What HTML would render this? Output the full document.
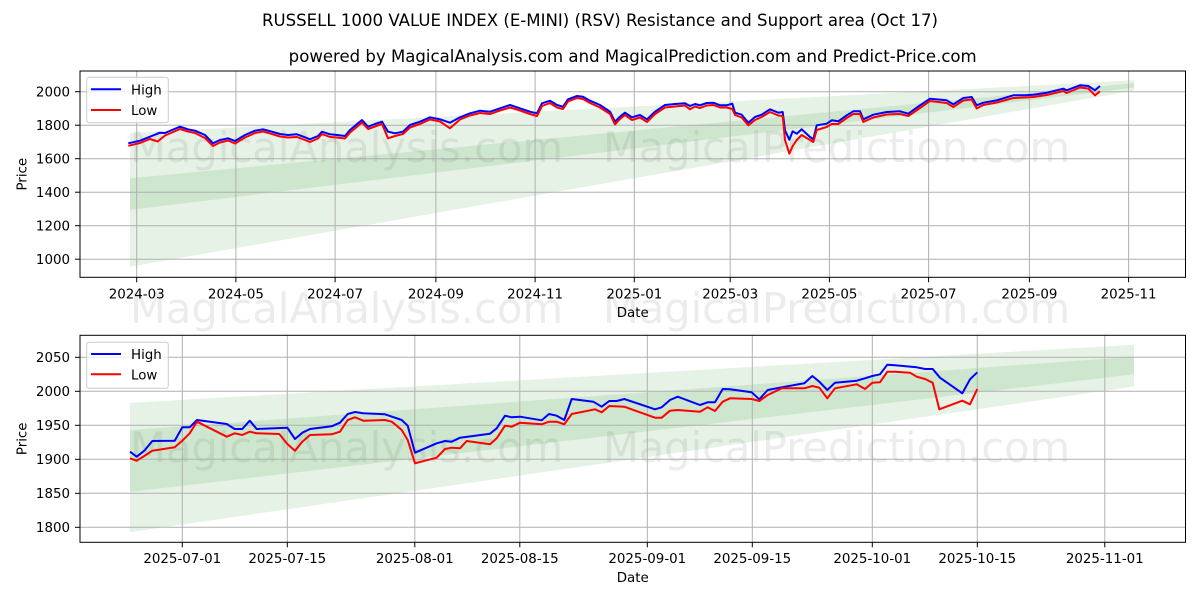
<!DOCTYPE html>
<html>
<head>
<meta charset="utf-8">
<style>
  html, body { margin:0; padding:0; background:#ffffff; }
  svg { display:block; }
  text { font-family: "DejaVu Sans", "Liberation Sans", sans-serif; }
  .t { fill:#000; }
  .wm { fill:#808080; fill-opacity:0.15; }
</style>
</head>
<body>
<svg width="1200" height="600" viewBox="0 0 1200 600" xmlns="http://www.w3.org/2000/svg">
  <rect x="0" y="0" width="1200" height="600" fill="#ffffff"/>

  <!-- Titles -->
  <text class="t" x="600" y="26" font-size="16.5" text-anchor="middle" textLength="676" lengthAdjust="spacingAndGlyphs">RUSSELL 1000 VALUE INDEX (E-MINI) (RSV) Resistance and Support area (Oct 17)</text>
  <text class="t" x="632.7" y="62" font-size="16.5" text-anchor="middle" textLength="688" lengthAdjust="spacingAndGlyphs">powered by MagicalAnalysis.com and MagicalPrediction.com and Predict-Price.com</text>

  <!-- ================= TOP CHART ================= -->
  <polygon points="130,133 1134,80.3 1134,90.5 130,266.7" fill="#008000" fill-opacity="0.1"/>
  <polygon points="130,178.3 1134,83.2 1134,87.5 130,209.9" fill="#008000" fill-opacity="0.1"/>

  <g stroke="#b0b0b0" stroke-width="1">
    <line x1="80" y1="91.7" x2="1185.5" y2="91.7"/>
    <line x1="80" y1="125.2" x2="1185.5" y2="125.2"/>
    <line x1="80" y1="158.7" x2="1185.5" y2="158.7"/>
    <line x1="80" y1="192.2" x2="1185.5" y2="192.2"/>
    <line x1="80" y1="225.7" x2="1185.5" y2="225.7"/>
    <line x1="80" y1="259.2" x2="1185.5" y2="259.2"/>
    <line x1="136.7" y1="71" x2="136.7" y2="277.3"/>
    <line x1="235.9" y1="71" x2="235.9" y2="277.3"/>
    <line x1="335.1" y1="71" x2="335.1" y2="277.3"/>
    <line x1="435.9" y1="71" x2="435.9" y2="277.3"/>
    <line x1="535.1" y1="71" x2="535.1" y2="277.3"/>
    <line x1="634.3" y1="71" x2="634.3" y2="277.3"/>
    <line x1="730.2" y1="71" x2="730.2" y2="277.3"/>
    <line x1="829.4" y1="71" x2="829.4" y2="277.3"/>
    <line x1="928.6" y1="71" x2="928.6" y2="277.3"/>
    <line x1="1029.4" y1="71" x2="1029.4" y2="277.3"/>
    <line x1="1128.6" y1="71" x2="1128.6" y2="277.3"/>
  </g>

  <!-- Watermarks (drawn under series) -->
  <g font-size="41.5">
    <text class="wm" x="130" y="162" textLength="433" lengthAdjust="spacingAndGlyphs">MagicalAnalysis.com</text>
    <text class="wm" x="603" y="162" textLength="467" lengthAdjust="spacingAndGlyphs">MagicalPrediction.com</text>
    <text class="wm" x="130" y="323" textLength="433" lengthAdjust="spacingAndGlyphs">MagicalAnalysis.com</text>
    <text class="wm" x="603" y="323" textLength="467" lengthAdjust="spacingAndGlyphs">MagicalPrediction.com</text>
    <text class="wm" x="130" y="462" textLength="433" lengthAdjust="spacingAndGlyphs">MagicalAnalysis.com</text>
    <text class="wm" x="603" y="462" textLength="467" lengthAdjust="spacingAndGlyphs">MagicalPrediction.com</text>
  </g>

  <polyline fill="none" stroke="#0000ff" stroke-width="2" stroke-linejoin="round" points="128.3,143.3 140,140.7 150,136.7 160,132.7 165,133 172,130 180,126.7 188,129.3 195,130.7 205,135 213,143.3 220,140 228,138.3 235,141 245,135 255,130.7 263,129.3 272,131.7 280,134 288,135 297,134.3 305,137.3 310,139.3 318,136 322,131.7 330,134.3 337,135 345,136 350,130 358,123.3 362,120 368,126.7 375,124 382,121.7 388,131.7 395,133.3 403,131.7 410,125 420,121.7 430,117.3 440,119.3 450,122.7 460,117.3 470,113.3 480,110.7 490,111.7 500,108.3 510,105 520,108.3 530,111.7 537,113.3 542,103.3 550,100.7 557,105 563,106.7 568,99.3 577,96 583,96.7 590,100.7 600,105 610,111.7 615,121.7 620,116.7 625,112.7 632,117.3 640,115 647,119.3 655,111.7 665,105 675,104 685,103.3 690,106 695,104 700,105.3 706.7,103 713.3,102.7 720,105.3 726.7,105.3 732.3,103.7 735,112.7 741.7,114.7 748.3,122.7 755,117 761.7,114.7 770,109.3 778.3,112.7 782.7,112 785,130.3 789.3,139.7 792.7,131.3 796.7,133.7 801.7,129.3 810,137 813.3,139.3 816.7,125.3 826.7,123.7 831.7,120.3 838.3,121.3 846.7,115.3 853.3,111.3 860,111.3 863.3,119.3 873.3,114.7 886.7,112 900,111.3 908.3,113.7 920,105.3 930,98.7 946.7,100.3 953.3,104.3 963.3,98 971.7,97 976.7,105.3 983.3,102.7 996.7,100.3 1013.3,95.3 1025,95.3 1033.3,94.7 1046.7,92.7 1063.3,88.7 1066.7,90.3 1080,85.3 1088.3,86 1095,90.3 1100,86"/>
  <polyline fill="none" stroke="#ff0000" stroke-width="2" stroke-linejoin="round" points="128.3,145.8 140,143 150,139 157.7,141.5 165,135.5 172,132.5 180,129 188,131.5 195,133 205,138 213,146 220,142.5 228,140.5 235,143.5 245,137.5 255,133 263,131.5 272,134 280,136.5 288,137.5 297,137 305,140 310,142 318,138.5 322,134 330,137 337,137.5 345,138.5 350,132.5 358,126 362,122.5 368,129 375,126.5 382,124 388,138.3 395,136 403,134 410,127.5 420,124 430,119.5 440,121.5 450,128.3 460,119.5 470,115.5 480,113 490,114 500,110.5 510,107.5 520,110.5 530,114 537,116 542,106 550,103 557,107.5 563,109 568,101.5 577,98 583,99 590,103 600,107.5 610,114 615,124.5 620,119 625,115 632,120 640,117.5 647,122 655,114 665,107.5 675,106.5 685,105.5 690,109.3 695,106.5 700,108 706.7,105.5 713.3,105 720,107.5 726.7,107.5 732.3,109 735,115 741.7,117.5 748.3,125.3 755,120 761.7,117 770,112 778.3,115.5 782.7,116 785,140 789.3,153.7 792.7,146 796.7,140 801.7,135 810,140 813.3,142 816.7,130 826.7,127 831.7,124 838.3,124 846.7,118 853.3,114 860,114 863.3,122 873.3,117.5 886.7,114.5 900,114 908.3,116 920,108 930,101 946.7,103 953.3,107 963.3,100.5 971.7,99.5 976.7,108.5 983.3,105 996.7,102.5 1013.3,98 1025,97.5 1033.3,97 1046.7,95 1063.3,91 1066.7,93 1080,87.5 1088.3,88.5 1095,95.3 1100,91.3"/>

  <rect x="80" y="71" width="1105.5" height="206.3" fill="none" stroke="#000" stroke-width="1"/>

  <g stroke="#000" stroke-width="1">
    <line x1="75" y1="91.7" x2="80" y2="91.7"/>
    <line x1="75" y1="125.2" x2="80" y2="125.2"/>
    <line x1="75" y1="158.7" x2="80" y2="158.7"/>
    <line x1="75" y1="192.2" x2="80" y2="192.2"/>
    <line x1="75" y1="225.7" x2="80" y2="225.7"/>
    <line x1="75" y1="259.2" x2="80" y2="259.2"/>
    <line x1="136.7" y1="277.3" x2="136.7" y2="282.3"/>
    <line x1="235.9" y1="277.3" x2="235.9" y2="282.3"/>
    <line x1="335.1" y1="277.3" x2="335.1" y2="282.3"/>
    <line x1="435.9" y1="277.3" x2="435.9" y2="282.3"/>
    <line x1="535.1" y1="277.3" x2="535.1" y2="282.3"/>
    <line x1="634.3" y1="277.3" x2="634.3" y2="282.3"/>
    <line x1="730.2" y1="277.3" x2="730.2" y2="282.3"/>
    <line x1="829.4" y1="277.3" x2="829.4" y2="282.3"/>
    <line x1="928.6" y1="277.3" x2="928.6" y2="282.3"/>
    <line x1="1029.4" y1="277.3" x2="1029.4" y2="282.3"/>
    <line x1="1128.6" y1="277.3" x2="1128.6" y2="282.3"/>
  </g>
  <g font-size="13.4" text-anchor="end">
    <text class="t" x="70" y="96.5">2000</text>
    <text class="t" x="70" y="130">1800</text>
    <text class="t" x="70" y="163.5">1600</text>
    <text class="t" x="70" y="197">1400</text>
    <text class="t" x="70" y="230.5">1200</text>
    <text class="t" x="70" y="264">1000</text>
  </g>
  <g font-size="13.4" text-anchor="middle">
    <text class="t" x="136.7" y="298.5">2024-03</text>
    <text class="t" x="235.9" y="298.5">2024-05</text>
    <text class="t" x="335.1" y="298.5">2024-07</text>
    <text class="t" x="435.9" y="298.5">2024-09</text>
    <text class="t" x="535.1" y="298.5">2024-11</text>
    <text class="t" x="634.3" y="298.5">2025-01</text>
    <text class="t" x="730.2" y="298.5">2025-03</text>
    <text class="t" x="829.4" y="298.5">2025-05</text>
    <text class="t" x="928.6" y="298.5">2025-07</text>
    <text class="t" x="1029.4" y="298.5">2025-09</text>
    <text class="t" x="1128.6" y="298.5">2025-11</text>
  </g>
  <text class="t" x="632.7" y="317" font-size="13.4" text-anchor="middle">Date</text>
  <text class="t" transform="translate(26.5,174.2) rotate(-90)" font-size="13.4" text-anchor="middle">Price</text>

  <rect x="86.7" y="77.3" width="81.6" height="45.4" rx="2.5" fill="#ffffff" fill-opacity="0.8" stroke="#cccccc" stroke-width="1"/>
  <line x1="91" y1="89.3" x2="121" y2="89.3" stroke="#0000ff" stroke-width="2"/>
  <line x1="91" y1="110" x2="121" y2="110" stroke="#ff0000" stroke-width="2"/>
  <text class="t" x="131" y="94.3" font-size="13.4">High</text>
  <text class="t" x="131" y="115" font-size="13.4">Low</text>

  <!-- ================= BOTTOM CHART ================= -->
  <polygon points="130,402.9 1134,344.7 1134,386.5 130,532.1" fill="#008000" fill-opacity="0.1"/>
  <polygon points="130,430.1 1134,356.6 1134,374.3 130,491.9" fill="#008000" fill-opacity="0.1"/>

  <g stroke="#b0b0b0" stroke-width="1">
    <line x1="80" y1="357.3" x2="1185.5" y2="357.3"/>
    <line x1="80" y1="391.3" x2="1185.5" y2="391.3"/>
    <line x1="80" y1="425.3" x2="1185.5" y2="425.3"/>
    <line x1="80" y1="459.3" x2="1185.5" y2="459.3"/>
    <line x1="80" y1="493.3" x2="1185.5" y2="493.3"/>
    <line x1="80" y1="527.3" x2="1185.5" y2="527.3"/>
    <line x1="182.3" y1="335.3" x2="182.3" y2="542.3"/>
    <line x1="287.3" y1="335.3" x2="287.3" y2="542.3"/>
    <line x1="414.8" y1="335.3" x2="414.8" y2="542.3"/>
    <line x1="519.8" y1="335.3" x2="519.8" y2="542.3"/>
    <line x1="647.3" y1="335.3" x2="647.3" y2="542.3"/>
    <line x1="752.3" y1="335.3" x2="752.3" y2="542.3"/>
    <line x1="872.3" y1="335.3" x2="872.3" y2="542.3"/>
    <line x1="977.3" y1="335.3" x2="977.3" y2="542.3"/>
    <line x1="1104.8" y1="335.3" x2="1104.8" y2="542.3"/>
  </g>

  <polyline fill="none" stroke="#0000ff" stroke-width="2" stroke-linejoin="round" points="130,451.7 136.7,456.7 144.3,450.7 152.3,441 174.7,440.7 182.3,427.3 189.7,427.3 197,420 226.7,424 234.7,429 242.3,429 249.7,420.7 256.7,429 287.3,427.7 295,439 302.3,432.7 310,429 331.7,426.3 340,422.7 347.7,414 355,412 363.3,413.3 385,414.3 395,417.7 401.7,420 407.7,425.7 415,452.7 436.7,443.3 445,441 451.7,441.7 460,437.7 490,433.7 496.7,428.3 505,415.7 511.7,417.3 520,416.7 541.7,420.3 549,414 556.7,415.7 564.3,420 571.7,399 593.3,401.7 601.7,406.7 609.3,401 616.7,401 624.3,399 655,409.3 661.7,407.3 670,400 677.7,396.7 700,405 707.7,402.3 715,402.3 722.7,389 730,389.3 751.7,392.3 759.3,399.3 767.7,390 781.7,387.3 800,384 804.3,383.3 812.3,376 819.3,381.7 827.3,390 835,382.7 856.7,380.7 865,378.3 872.3,376 880,374.3 887.3,364.7 895,365.3 916.7,367.3 925,369 932.7,369 940,377.7 962.3,393.3 970,379.3 977.3,372.3"/>
  <polyline fill="none" stroke="#ff0000" stroke-width="2" stroke-linejoin="round" points="130,458.3 136.7,460.7 144.3,456 152.3,450.7 174.7,447.3 182.3,440.7 189.7,433.3 197,421.7 226.7,436.7 234.7,433.3 242.3,435 249.7,431.7 256.7,433.3 279.3,434 287.3,444 295,450.7 302.3,441.7 310,435 331.7,434.3 340,431.7 347.7,420 355,417.3 363.3,420.7 385,420 391.7,421.7 395,424.3 401.7,430 407.7,440 415,463.3 436.7,457.7 445,449 451.7,447.7 460,448.3 466.7,441 490,444.3 496.7,438.3 505,425.7 511.7,426.7 520,422.7 541.7,424.3 549,421.7 556.7,421.7 564.3,424.3 571.7,414 595,409.3 601.7,412.3 609.3,406 624.3,406.7 655,417.7 661.7,417.7 670,410.7 677.7,410 700,411.7 707.7,407.3 715,411 722.7,401.7 730,398.3 751.7,399 759.3,401 767.7,395 781.7,388.3 804.3,388.3 812.3,386 819.3,387.7 827.3,398.3 835,388.3 856.7,384.3 865,389 872.3,382.7 880,382.3 887.3,371.7 895,371.7 910,372.7 916.7,376.7 925,379 932.7,382.7 939.3,409.3 962.3,400.7 970,404.3 977.3,389"/>

  <rect x="80" y="335.3" width="1105.5" height="207" fill="none" stroke="#000" stroke-width="1"/>

  <g stroke="#000" stroke-width="1">
    <line x1="75" y1="357.3" x2="80" y2="357.3"/>
    <line x1="75" y1="391.3" x2="80" y2="391.3"/>
    <line x1="75" y1="425.3" x2="80" y2="425.3"/>
    <line x1="75" y1="459.3" x2="80" y2="459.3"/>
    <line x1="75" y1="493.3" x2="80" y2="493.3"/>
    <line x1="75" y1="527.3" x2="80" y2="527.3"/>
    <line x1="182.3" y1="542.3" x2="182.3" y2="547.3"/>
    <line x1="287.3" y1="542.3" x2="287.3" y2="547.3"/>
    <line x1="414.8" y1="542.3" x2="414.8" y2="547.3"/>
    <line x1="519.8" y1="542.3" x2="519.8" y2="547.3"/>
    <line x1="647.3" y1="542.3" x2="647.3" y2="547.3"/>
    <line x1="752.3" y1="542.3" x2="752.3" y2="547.3"/>
    <line x1="872.3" y1="542.3" x2="872.3" y2="547.3"/>
    <line x1="977.3" y1="542.3" x2="977.3" y2="547.3"/>
    <line x1="1104.8" y1="542.3" x2="1104.8" y2="547.3"/>
  </g>
  <g font-size="13.4" text-anchor="end">
    <text class="t" x="70" y="362.1">2050</text>
    <text class="t" x="70" y="396.1">2000</text>
    <text class="t" x="70" y="430.1">1950</text>
    <text class="t" x="70" y="464.1">1900</text>
    <text class="t" x="70" y="498.1">1850</text>
    <text class="t" x="70" y="532.1">1800</text>
  </g>
  <g font-size="13.4" text-anchor="middle">
    <text class="t" x="182.3" y="563">2025-07-01</text>
    <text class="t" x="287.3" y="563">2025-07-15</text>
    <text class="t" x="414.8" y="563">2025-08-01</text>
    <text class="t" x="519.8" y="563">2025-08-15</text>
    <text class="t" x="647.3" y="563">2025-09-01</text>
    <text class="t" x="752.3" y="563">2025-09-15</text>
    <text class="t" x="872.3" y="563">2025-10-01</text>
    <text class="t" x="977.3" y="563">2025-10-15</text>
    <text class="t" x="1104.8" y="563">2025-11-01</text>
  </g>
  <text class="t" x="632.7" y="582" font-size="13.4" text-anchor="middle">Date</text>
  <text class="t" transform="translate(26.5,438.8) rotate(-90)" font-size="13.4" text-anchor="middle">Price</text>

  <rect x="86.7" y="342.3" width="81.6" height="46" rx="2.5" fill="#ffffff" fill-opacity="0.8" stroke="#cccccc" stroke-width="1"/>
  <line x1="91" y1="354" x2="121" y2="354" stroke="#0000ff" stroke-width="2"/>
  <line x1="91" y1="374.3" x2="121" y2="374.3" stroke="#ff0000" stroke-width="2"/>
  <text class="t" x="131" y="359" font-size="13.4">High</text>
  <text class="t" x="131" y="379.4" font-size="13.4">Low</text>
</svg>
</body>
</html>
